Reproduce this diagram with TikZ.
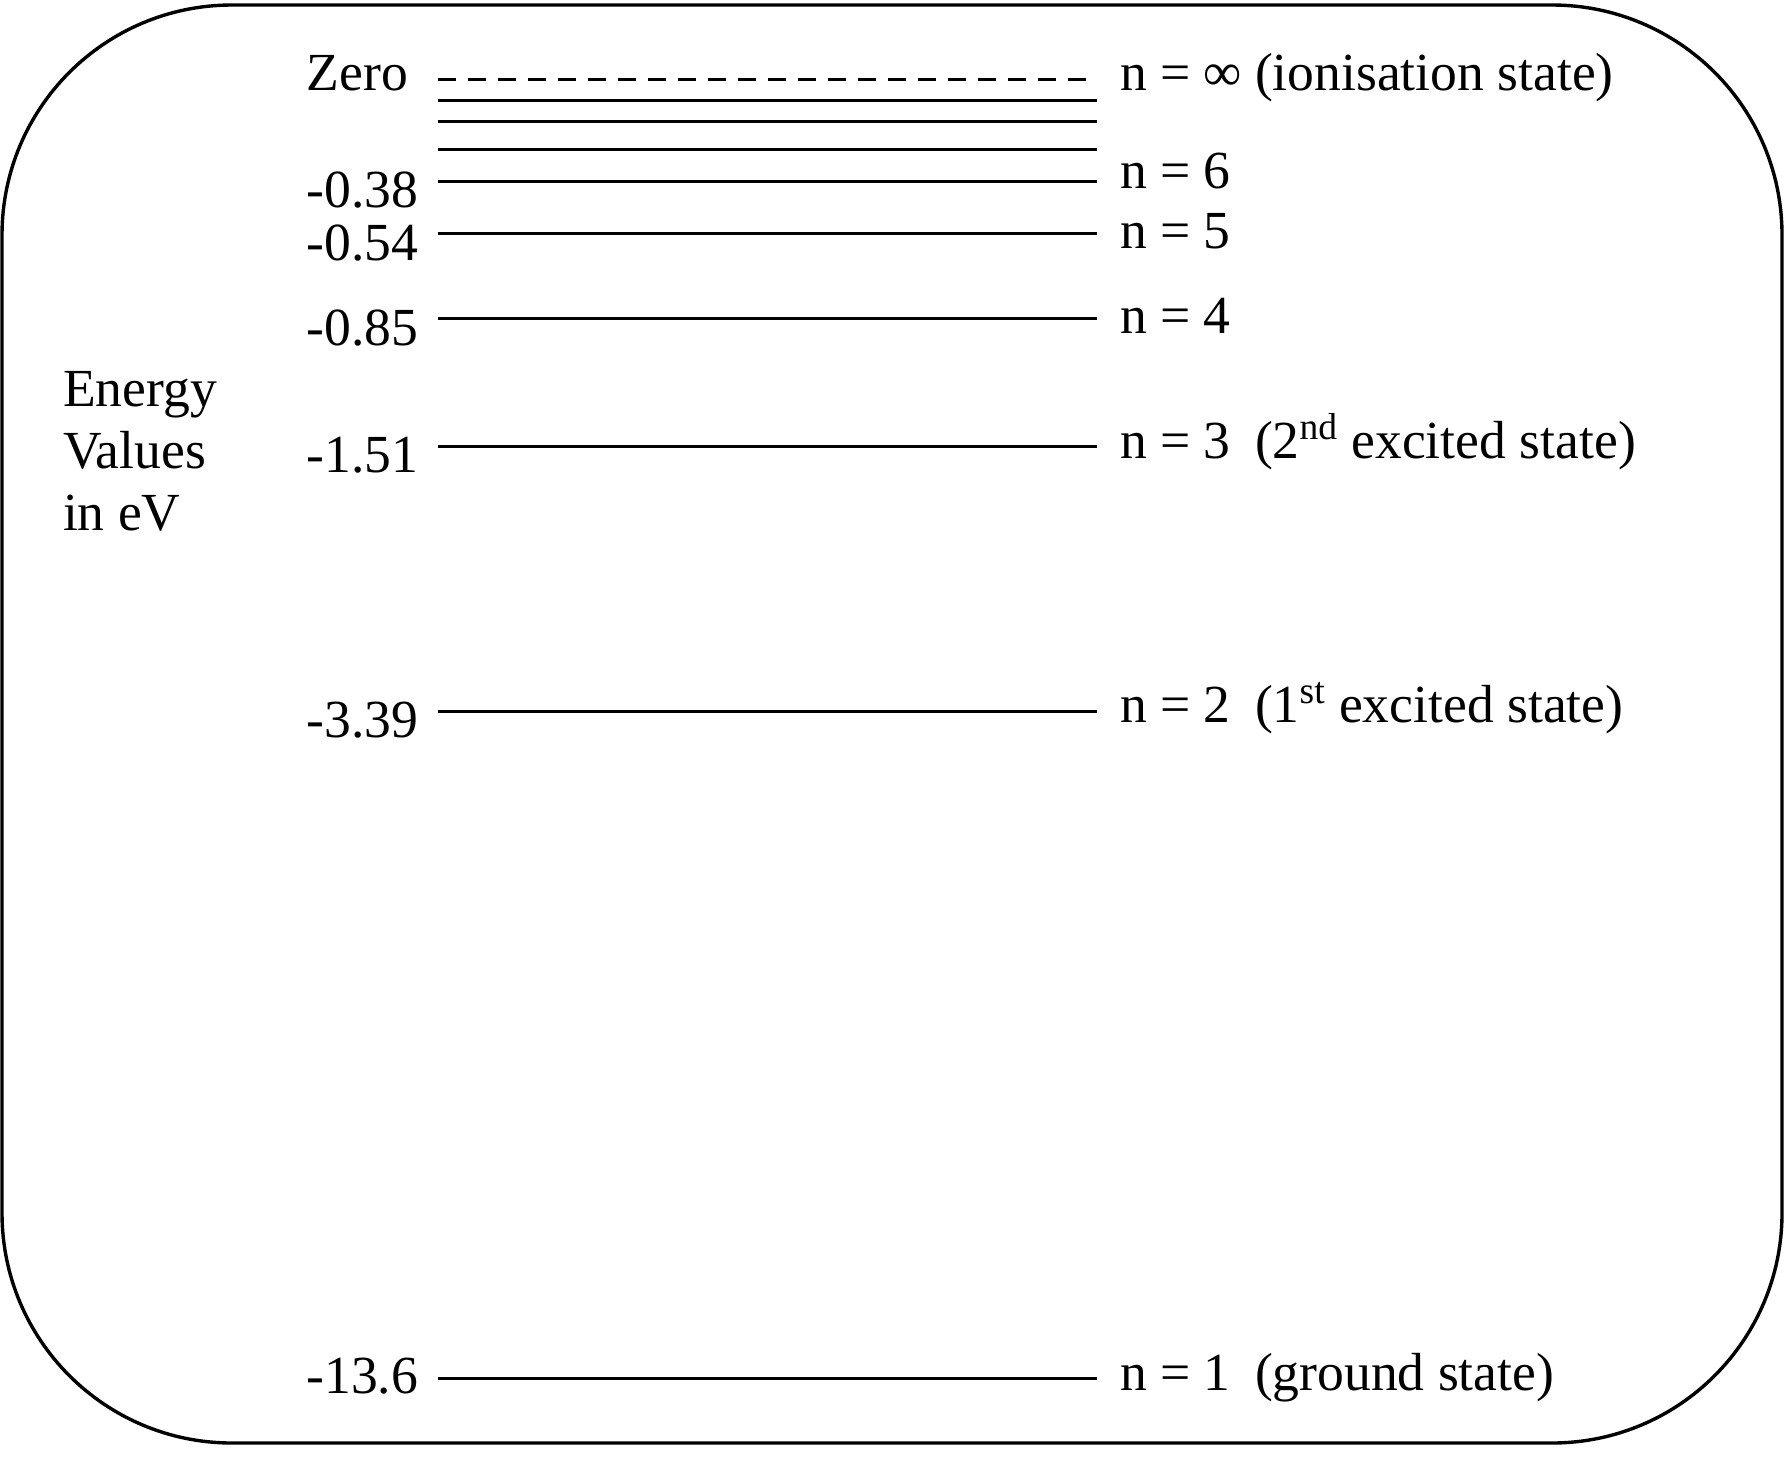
\documentclass[tikz,border=0pt]{standalone}
\usepackage{fontspec}
\setmainfont{Liberation Serif}
\begin{document}
\begin{tikzpicture}[x=0.5pt,y=-0.5pt,
  lbl/.style={inner sep=0pt, outer sep=0pt, font=\fontsize{26.8pt}{31pt}\selectfont},
  lefttxt/.style={lbl, anchor=base east},
  righttxt/.style={lbl, anchor=base west},
  level/.style={line width=1.5pt},
  dlevel/.style={line width=1.5pt, dash pattern=on 9pt off 6pt},
  frame/.style={line width=1.7pt, rounded corners=115pt}]
\useasboundingbox (0,0) rectangle (1786,1462);
\draw[frame] (2,5) rectangle (1782,1443);
% level line endpoints
\coordinate (Zi) at (438,79);   \coordinate (Zo) at (1097,79);
\coordinate (Ai) at (438,100);  \coordinate (Ao) at (1097,100);
\coordinate (Bi) at (438,121);  \coordinate (Bo) at (1097,121);
\coordinate (Ci) at (438,149);  \coordinate (Co) at (1097,149);
\coordinate (L6i) at (438,181); \coordinate (L6o) at (1097,181);
\coordinate (L5i) at (438,233); \coordinate (L5o) at (1097,233);
\coordinate (L4i) at (438,318); \coordinate (L4o) at (1097,318);
\coordinate (L3i) at (438,446); \coordinate (L3o) at (1097,446);
\coordinate (L2i) at (438,711); \coordinate (L2o) at (1097,711);
\coordinate (L1i) at (438,1378);\coordinate (L1o) at (1097,1378);
\draw[dlevel] (Zi) -- (Zo);
\draw[level] (Ai) -- (Ao);
\draw[level] (Bi) -- (Bo);
\draw[level] (Ci) -- (Co);
\draw[level] (L6i) -- (L6o);
\draw[level] (L5i) -- (L5o);
\draw[level] (L4i) -- (L4o);
\draw[level] (L3i) -- (L3o);
\draw[level] (L2i) -- (L2o);
\draw[level] (L1i) -- (L1o);
% left values
\node[lefttxt] (vz) at (408,90) {Zero};
\node[lefttxt] (v6) at (418,207) {-0.38};
\node[lefttxt] (v5) at (418,260) {-0.54};
\node[lefttxt] (v4) at (418,345) {-0.85};
\node[lefttxt] (v3) at (418,472) {-1.51};
\node[lefttxt] (v2) at (418,737) {-3.39};
\node[lefttxt] (v1) at (418,1393) {-13.6};
% right labels
\node[righttxt] (nz) at (1120,90) {n = ∞};
\node[righttxt] (n6) at (1120,188) {n = 6};
\node[righttxt] (n5) at (1120,248) {n = 5};
\node[righttxt] (n4) at (1120,333) {n = 4};
\node[righttxt] (n3) at (1120,458) {n = 3};
\node[righttxt] (n2) at (1120,722) {n = 2};
\node[righttxt] (n1) at (1120,1390) {n = 1};
\node[righttxt] (sz) at (1255,90) {(ionisation state)};
\node[righttxt] (s3) at (1255,458) {(2\textsuperscript{nd} excited state)};
\node[righttxt] (s2) at (1255,722) {(1\textsuperscript{st} excited state)};
\node[righttxt] (s1) at (1255,1390) {(ground state)};
% axis caption
\node[lbl, anchor=base west, align=left] (cap) at (63,530) {Energy\\Values\\in eV};
\end{tikzpicture}
\end{document}
